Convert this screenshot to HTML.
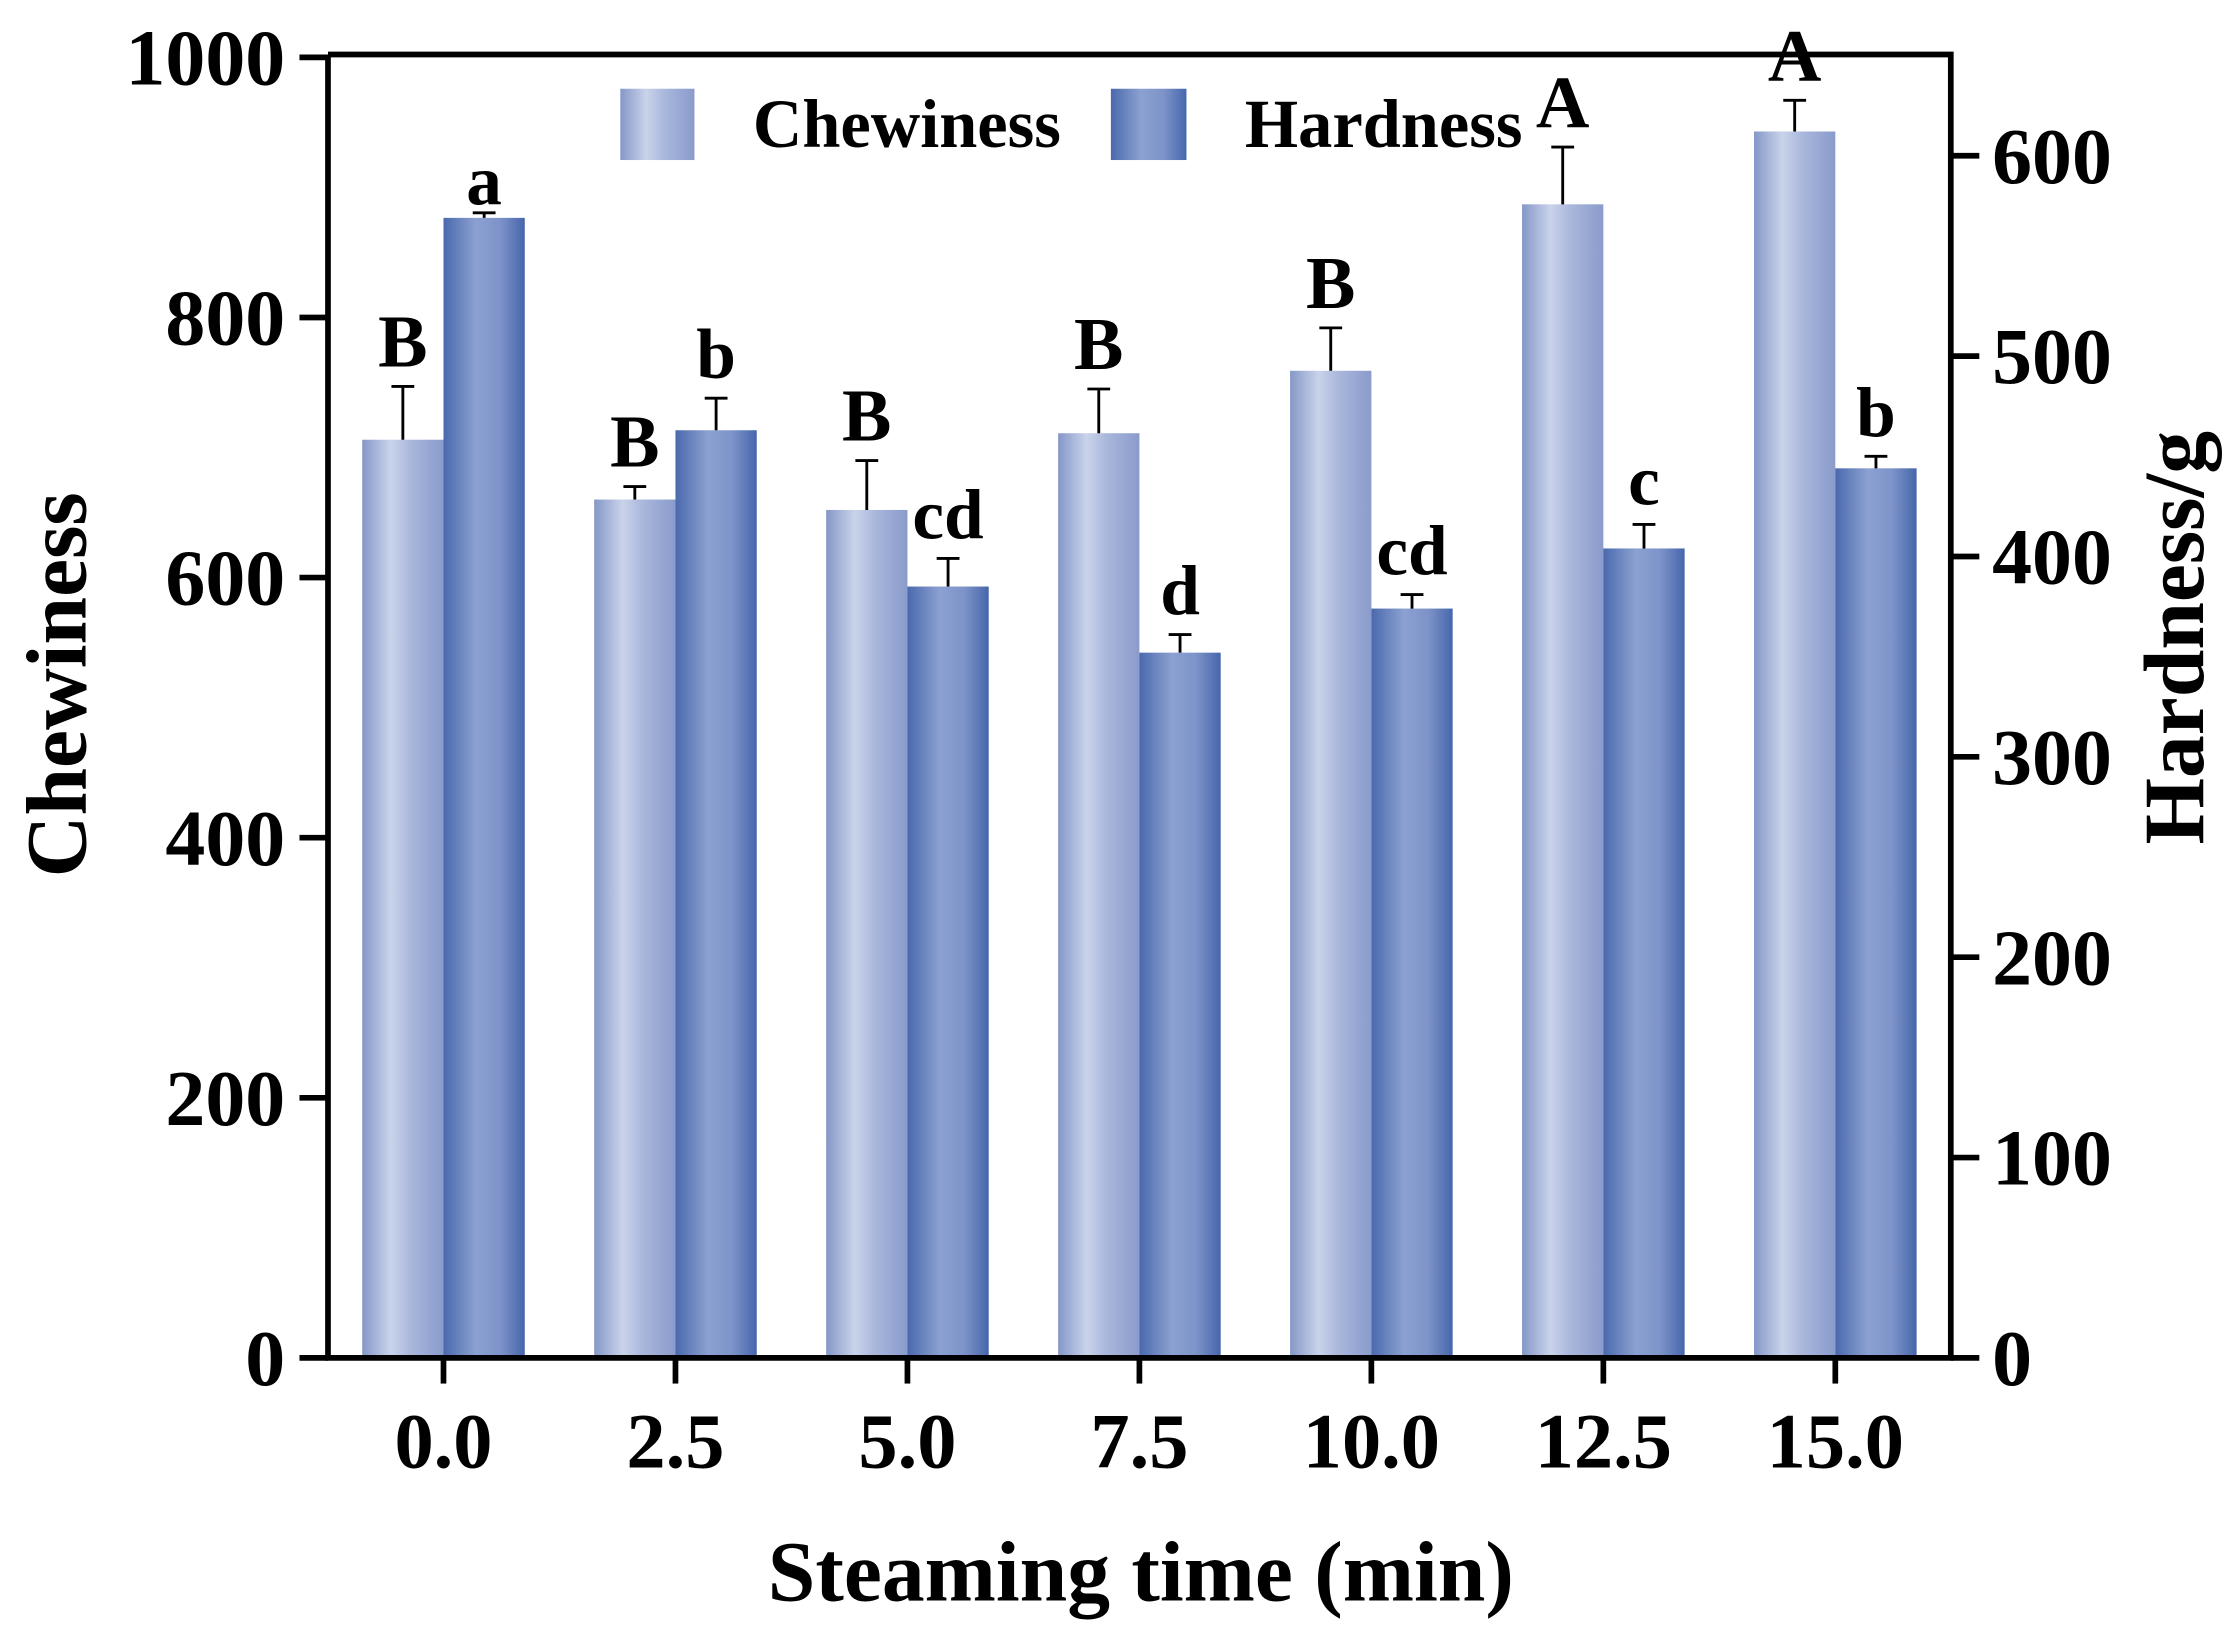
<!DOCTYPE html>
<html><head><meta charset="utf-8"><style>
html,body{margin:0;padding:0;background:#fff;}
svg{display:block;font-family:"Liberation Serif",serif;font-weight:bold;}
</style></head><body>
<svg id="chart" width="2236" height="1642" viewBox="0 0 1568 1151" xmlns="http://www.w3.org/2000/svg">
<defs>
<linearGradient id="gC" x1="0" x2="1" y1="0" y2="0">
<stop offset="0" stop-color="#8597c8"/><stop offset="0.35" stop-color="#c9d3ea"/><stop offset="0.6" stop-color="#a9b7dc"/><stop offset="1" stop-color="#8a9bcb"/>
</linearGradient>
<linearGradient id="gH" x1="0" x2="1" y1="0" y2="0">
<stop offset="0" stop-color="#4a69ad"/><stop offset="0.4" stop-color="#8ca1d1"/><stop offset="0.7" stop-color="#7d93c9"/><stop offset="1" stop-color="#4666ab"/>
</linearGradient>
</defs>
<g id="bars"></g>
<g id="axes"></g>
<g>
<rect x="435" y="62" width="52" height="50" fill="url(#gC)"/>
<text x="528" y="103" font-size="48">Chewiness</text>
<rect x="779" y="62" width="53" height="50" fill="url(#gH)"/>
<text x="873" y="103" font-size="48">Hardness</text>
</g>
<text transform="translate(60,480) rotate(-90)" text-anchor="middle" font-size="60">Chewiness</text>
<text transform="translate(1545,447) rotate(-90)" text-anchor="middle" font-size="60">Hardness/g</text>
<text x="800" y="1122" text-anchor="middle" font-size="60">Steaming time (min)</text>
</svg>
<script>
const categories = ["0.0","2.5","5.0","7.5","10.0","12.5","15.0"];
const chewiness = [706,660,652,711,759,887,943];
const chewErr = [41,10,38,34,33,44,24];
const hardness = [569,463,385,352,374,404,444];
const hardErr = [2.5,16,14,9,7,12,6];
const chewLetters = ["B","B","B","B","B","A","A"];
const hardLetters = ["a","b","cd","d","cd","c","b"];
const leftTicks = [0,200,400,600,800,1000];
const rightTicks = [0,100,200,300,400,500,600];

const NS="http://www.w3.org/2000/svg";
const X0=230,X1=1368,Y0=952;
const yL=v=>Y0-v*0.912;
const yR=v=>Y0-v*1.405;
const xC=i=>311+i*162.67;
const BW=57;
function mk(tag,attrs,parent,text){const e=document.createElementNS(NS,tag);for(const k in attrs)e.setAttribute(k,attrs[k]);if(text!==undefined)e.textContent=text;parent.appendChild(e);return e;}
const bars=document.getElementById('bars'),axes=document.getElementById('axes');
categories.forEach((c,i)=>{
  const cx=xC(i);
  let yt=yL(chewiness[i]);
  let r=mk('rect',{x:cx-BW,y:yt,width:BW,height:Y0-yt,fill:'url(#gC)'},bars);
  
  
  let ye=yL(chewiness[i]+chewErr[i]);
  let e=mk('path',{d:`M${cx-BW/2},${yt}V${ye}M${cx-BW/2-8},${ye}H${cx-BW/2+8}`,stroke:'#000','stroke-width':2,fill:'none'},bars);
  
  
  let t=mk('text',{x:cx-BW/2,y:ye-14,'text-anchor':'middle','font-size':52},bars,chewLetters[i]);
  
  
  yt=yR(hardness[i]);
  r=mk('rect',{x:cx,y:yt,width:BW,height:Y0-yt,fill:'url(#gH)'},bars);
  
  
  ye=yR(hardness[i]+hardErr[i]);
  e=mk('path',{d:`M${cx+BW/2},${yt}V${ye}M${cx+BW/2-8},${ye}H${cx+BW/2+8}`,stroke:'#000','stroke-width':2,fill:'none'},bars);
  
  
  t=mk('text',{x:cx+BW/2,y:ye-(i===0?6:14),'text-anchor':'middle','font-size':50},bars,hardLetters[i]);
  
  
  const tk=mk('line',{x1:cx,x2:cx,y1:Y0,y2:Y0+18,stroke:'#000','stroke-width':4},axes);
  
  
  const tl=mk('text',{x:cx,y:1029,'text-anchor':'middle','font-size':55},axes,c);
  
  
});
const frame=mk('path',{d:`M${X0},${38}V${Y0}H${X1}V${38}H${X0}`,stroke:'#000','stroke-width':4,fill:'none'},axes);


leftTicks.forEach(v=>{
  const y=yL(v);
  const l=mk('line',{x1:X0-20,x2:X0,y1:y,y2:y,stroke:'#000','stroke-width':4},axes);
  
  
  const t=mk('text',{x:200,y:y+19,'text-anchor':'end','font-size':56},axes,String(v));
  
  
});
rightTicks.forEach(v=>{
  const y=yR(v);
  const l=mk('line',{x1:X1,x2:X1+20,y1:y,y2:y,stroke:'#000','stroke-width':4},axes);
  
  
  const t=mk('text',{x:1397,y:y+19,'text-anchor':'start','font-size':56},axes,String(v));
  
  
});
</script>
</body></html>
